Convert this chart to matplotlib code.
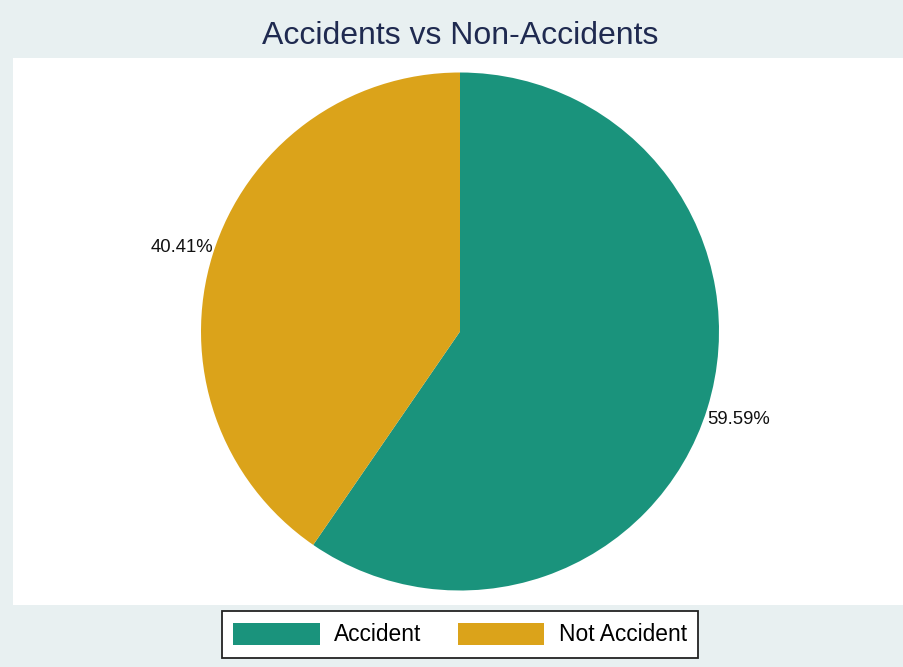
import matplotlib.pyplot as plt

plt.rcParams["font.family"] = ["Liberation Sans", "DejaVu Sans"]

categories = ["Accident", "Not Accident"]
shares = [59.59, 40.41]
colors = ["#1a937c", "#dba31a"]

fig = plt.figure(figsize=(9.04, 6.67), dpi=100)
fig.patch.set_facecolor("#e8f0f1")

ax = fig.add_axes([13 / 904, 62 / 667, 891 / 904, 547 / 667])

wedges, texts = ax.pie(
    shares,
    colors=colors,
    startangle=90,
    counterclock=False,
    labels=[f"{v:.2f}%" for v in shares],
    labeldistance=1.125,
    textprops={"fontsize": 13.3, "color": "#111111"},
    wedgeprops={"linewidth": 0},
)
for t in texts:
    t.set_horizontalalignment("center")
    t.set_verticalalignment("center_baseline")

ax.set_frame_on(True)
ax.set_facecolor("white")
ax.set_aspect("equal", adjustable="datalim")
r_px = 259
ax.set_ylim(-273.5 / r_px, 273.5 / r_px)
ax.set_xlim((-445.5 - 1.5) / r_px, (445.5 - 1.5) / r_px)
ax.set_xticks([])
ax.set_yticks([])
for s in ax.spines.values():
    s.set_visible(False)

fig.text(460.5 / 904, 1 - 44 / 667, "Accidents vs Non-Accidents", ha="center", va="baseline",
         fontsize=23, color="#1f2a50")

leg = fig.legend(wedges, categories, loc="center", bbox_to_anchor=(460 / 904, 1 - 634.5 / 667),
                 ncol=2, frameon=True, fancybox=False, fontsize=16.4,
                 handlelength=3.8, handleheight=1.1, columnspacing=1.6, handletextpad=0.62,
                 borderpad=0.5, borderaxespad=0)
leg.get_frame().set_edgecolor("#222222")
leg.get_frame().set_linewidth(1.3)
leg.get_frame().set_facecolor("white")
leg.get_frame().set_alpha(1)

fig.savefig("out.png", dpi=100, facecolor=fig.get_facecolor())
